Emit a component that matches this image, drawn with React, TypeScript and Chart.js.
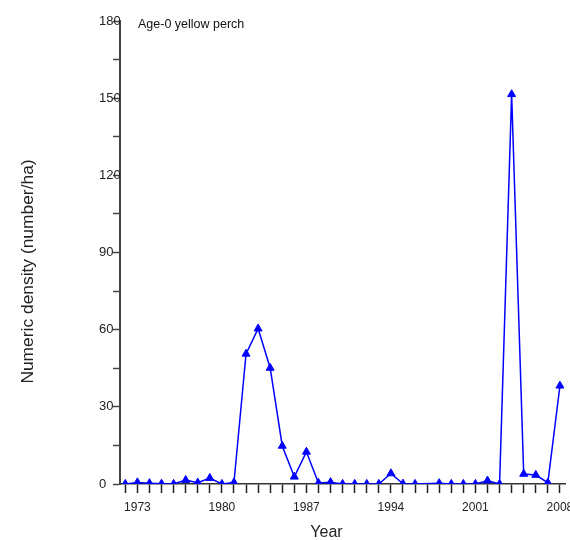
import React, { useEffect, useRef } from "react";
import { Chart, registerables } from "chart.js";

Chart.register(...registerables);

// Survey years (1997 has no sample)
const years = [
  1972, 1973, 1974, 1975, 1976, 1977, 1978, 1979, 1980, 1981, 1982, 1983,
  1984, 1985, 1986, 1987, 1988, 1989, 1990, 1991, 1992, 1993, 1994, 1995,
  1996, 1998, 1999, 2000, 2001, 2002, 2003, 2004, 2005, 2006, 2007, 2008,
];
// Age-0 yellow perch numeric density (number/ha)
const density = [
  0, 0.6, 0.3, 0.1, 0, 1.5, 0.5, 2.3, 0, 0.6, 50.6, 60.4,
  45.1, 14.8, 2.8, 12.5, 0.4, 0.7, 0, 0, 0, 0, 4.1, 0.1,
  0, 0.3, 0, 0, 0, 1.3, 0, 151.5, 3.9, 3.5, 0.5, 38.2,
];
const labelledYears = [1973, 1980, 1987, 1994, 2001, 2008];
const firstTickYear = 1972;
const lastTickYear = 2008;
const yLabelValues = [0, 30, 60, 90, 120, 150, 180];

const FONT = "'Liberation Sans', Arial, sans-serif";

const cornerLabel = {
  id: "cornerLabel",
  afterLayout(chart: any) {
    // shift the axis-title boxes slightly, as in the original figure
    const yt = chart.scales.yTitle;
    if (yt) {
      yt.top = yt.top + 38;
    }
    const xt = chart.scales.xTitle;
    if (xt) {
      xt.left = xt.left - 32;
      xt.bottom = xt.bottom + 2;
    }
  },
  afterDraw(chart: any) {
    const { ctx, chartArea } = chart;
    ctx.save();
    ctx.font = `12.5px ${FONT}`;
    ctx.fillStyle = "#111";
    ctx.textAlign = "left";
    ctx.textBaseline = "middle";
    ctx.fillText("Age-0 yellow perch", chartArea.left + 18, chartArea.top + 4);
    ctx.restore();
  },
};

export default function App() {
  const ref = useRef<HTMLCanvasElement>(null);
  useEffect(() => {
    const canvas = ref.current!;
    const tickYears: number[] = [];
    for (let y = firstTickYear; y <= lastTickYear; y++) tickYears.push(y);
    const chart = new Chart(canvas, {
      type: "line",
      data: {
        datasets: [
          {
            data: years.map((x, i) => ({ x, y: density[i] })),
            borderColor: "#0000ff",
            backgroundColor: "#0000ff",
            borderWidth: 1.5,
            pointStyle: "triangle",
            pointRadius: 4.6,
            pointBorderWidth: 1,
            tension: 0,
          },
        ],
      },
      options: {
        responsive: false,
        animation: false,
        devicePixelRatio: 1,
        layout: { padding: { top: 21, right: 35, bottom: 0, left: 0 } },
        plugins: { legend: { display: false }, tooltip: { enabled: false } },
        scales: {
          x: {
            type: "linear",
            position: "bottom",
            weight: 0,
            min: 1971.56,
            max: 2008.42,
            afterBuildTicks: (s: any) => {
              s.ticks = tickYears.map((v) => ({ value: v }));
            },
            ticks: {
              autoSkip: false,
              maxRotation: 0,
              minRotation: 0,
              padding: 7,
              color: "#222",
              font: { family: FONT, size: 12 },
              callback: (v: any) => (labelledYears.includes(v) ? String(v) : ""),
            },
            grid: {
              display: true,
              drawOnChartArea: false,
              tickLength: 9,
              tickColor: "#222",
              tickWidth: 1.5,
            },
            border: { color: "#333", width: 1.5 },
            afterFit: (s: any) => {
              s.height = 30;
            },
          },
          xTitle: {
            type: "linear",
            position: "bottom",
            weight: 1,
            min: 0,
            max: 1,
            grid: { display: false },
            border: { display: false },
            ticks: { display: false },
            title: {
              display: true,
              text: "Year",
              color: "#222",
              font: { family: FONT, size: 16 },
              padding: { top: 0, bottom: 0 },
            },
            afterFit: (s: any) => {
              s.height = 26;
            },
          },
          y: {
            type: "linear",
            position: "left",
            weight: 0,
            min: 0,
            max: 180,
            ticks: {
              stepSize: 15,
              crossAlign: "far",
              color: "#222",
              font: { family: FONT, size: 13 },
              callback: (v: any) => (yLabelValues.includes(v) ? String(v) : ""),
            },
            grid: {
              display: true,
              drawOnChartArea: false,
              tickLength: 7,
              tickColor: "#444",
              tickWidth: 1.5,
            },
            border: { color: "#444", width: 2 },
            afterFit: (s: any) => {
              s.width = 21;
            },
          },
          yTitle: {
            type: "linear",
            position: "left",
            weight: 1,
            min: 0,
            max: 1,
            grid: { display: false },
            border: { display: false },
            ticks: { display: false },
            title: {
              display: true,
              text: "Numeric density (number/ha)",
              color: "#222",
              font: { family: FONT, size: 17.4 },
              padding: { top: 18, bottom: 0 },
            },
            afterFit: (s: any) => {
              s.width = 99;
            },
          },
        },
      } as any,
      plugins: [cornerLabel],
    });
    return () => chart.destroy();
  }, []);

  return (
    <div
      style={{
        position: "absolute",
        left: 0,
        top: 0,
        width: 570,
        height: 540,
        overflow: "hidden",
        background: "#fff",
      }}
    >
      <canvas ref={ref} width={600} height={540} style={{ display: "block" }} />
    </div>
  );
}
